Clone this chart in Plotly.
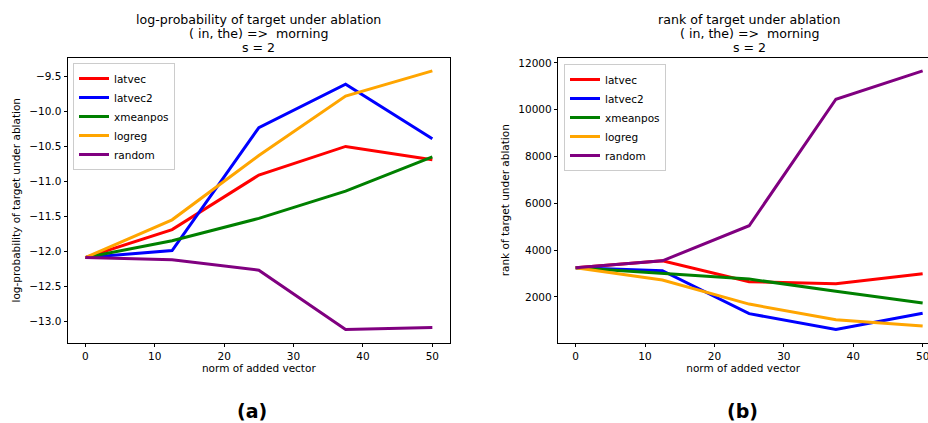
import plotly.graph_objects as go

# ---- data ----
norms = [0, 12.5, 25, 37.5, 50]
series_names = ["latvec", "latvec2", "xmeanpos", "logreg", "random"]
series_colors = ["red", "blue", "green", "orange", "purple"]

logprob_latvec = [-12.09, -11.69, -10.91, -10.50, -10.69]
logprob_latvec2 = [-12.09, -11.99, -10.23, -9.61, -10.39]
logprob_xmeanpos = [-12.09, -11.85, -11.53, -11.14, -10.65]
logprob_logreg = [-12.09, -11.55, -10.63, -9.78, -9.42]
logprob_random = [-12.09, -12.12, -12.27, -13.12, -13.09]

rank_latvec = [3240, 3540, 2650, 2560, 2990]
rank_latvec2 = [3240, 3120, 1280, 600, 1300]
rank_xmeanpos = [3240, 2990, 2760, 2240, 1740]
rank_logreg = [3240, 2720, 1690, 1020, 750]
rank_random = [3240, 3540, 5040, 10450, 11660]

logprob_series = [logprob_latvec, logprob_latvec2, logprob_xmeanpos, logprob_logreg, logprob_random]
rank_series = [rank_latvec, rank_latvec2, rank_xmeanpos, rank_logreg, rank_random]

title_lines_a = ["log-probability of target under ablation", "( in, the) =>  morning", "s = 2"]
title_lines_b = ["rank of target under ablation", "( in, the) =>  morning", "s = 2"]

W, H = 928, 423
FONT = "DejaVu Sans"

fig = go.Figure()
for name, color, ys in zip(series_names, series_colors, logprob_series):
    fig.add_trace(go.Scatter(x=norms, y=ys, mode="lines", name=name,
                             line=dict(color=color, width=3),
                             xaxis="x", yaxis="y", legend="legend"))
for name, color, ys in zip(series_names, series_colors, rank_series):
    fig.add_trace(go.Scatter(x=norms, y=ys, mode="lines", name=name,
                             line=dict(color=color, width=3),
                             xaxis="x2", yaxis="y2", legend="legend2"))


def pad_range(series):
    lo = min(min(s) for s in series)
    hi = max(max(s) for s in series)
    span = hi - lo
    return [lo - 0.05 * span, hi + 0.05 * span]


# pixel geometry
ax1_l, ax1_r = 68, 449.7
ax2_l = 558.3
top, bottom = 58, 342.5
px_per_unit = (ax1_r - ax1_l) / 55.0
x2_max = -2.5 + (W - ax2_l) / px_per_unit

axis_common = dict(
    showline=True, linecolor="black", linewidth=1,
    ticks="outside", ticklen=3.5, tickwidth=0.8, tickcolor="black",
    showgrid=False, zeroline=False, automargin=False,
    ticklabeloverflow="allow",
    tickfont=dict(family=FONT, size=10.5, color="black"),
    title_font=dict(family=FONT, size=10.5, color="black"),
)

fig.update_layout(
    width=W, height=H,
    margin=dict(l=0, r=0, t=0, b=0, autoexpand=False),
    plot_bgcolor="white", paper_bgcolor="white",
    font=dict(family=FONT, color="black"),
    xaxis=dict(domain=[ax1_l / W, ax1_r / W], anchor="y", range=[-2.5, 52.5],
               dtick=10, tick0=0, mirror=True,
               title=dict(text="norm of added vector", standoff=4), **axis_common),
    yaxis=dict(domain=[1 - bottom / H, 1 - top / H], anchor="x",
               range=pad_range(logprob_series), dtick=0.5, tick0=0, tickformat=".1f",
               mirror=True,
               title=dict(text="log-probability of target under ablation", standoff=6),
               **axis_common),
    xaxis2=dict(domain=[ax2_l / W, 1.0], anchor="y2", range=[-2.5, x2_max],
                dtick=10, tick0=0, mirror=True,
                title=dict(text="norm of added vector", standoff=4), **axis_common),
    yaxis2=dict(domain=[1 - bottom / H, 1 - top / H], anchor="x2",
                range=pad_range(rank_series), dtick=2000, tick0=0, tickformat="d",
                mirror=False,
                title=dict(text="rank of target under ablation", standoff=6),
                **axis_common),
    legend=dict(x=73 / W, y=1 - 63 / H, xref="paper", yref="paper",
                xanchor="left", yanchor="top",
                bgcolor="rgba(255,255,255,0.8)", bordercolor="#cccccc", borderwidth=1,
                font=dict(family=FONT, size=10.5, color="black"), tracegroupgap=0),
    legend2=dict(x=564 / W, y=1 - 64 / H, xref="paper", yref="paper",
                 xanchor="left", yanchor="top",
                 bgcolor="rgba(255,255,255,0.8)", bordercolor="#cccccc", borderwidth=1,
                 font=dict(family=FONT, size=10.5, color="black"), tracegroupgap=0),
    showlegend=True,
)

ann = []
title_ys = [19.3, 33.3, 47.3]
for cx, lines in [((ax1_l + ax1_r) / 2, title_lines_a), (749, title_lines_b)]:
    for yy, txt in zip(title_ys, lines):
        ann.append(dict(text=txt, x=cx / W, y=1 - yy / H, xref="paper", yref="paper",
                        xanchor="center", yanchor="middle", showarrow=False,
                        font=dict(family=FONT, size=12.6, color="black")))
ann.append(dict(text="<b>(a)</b>", x=251.5 / W, y=1 - 411 / H, xref="paper", yref="paper",
                xanchor="center", yanchor="middle", showarrow=False,
                font=dict(family=FONT, size=19, color="black")))
ann.append(dict(text="<b>(b)</b>", x=742 / W, y=1 - 411 / H, xref="paper", yref="paper",
                xanchor="center", yanchor="middle", showarrow=False,
                font=dict(family=FONT, size=19, color="black")))
fig.update_layout(annotations=ann)

fig.write_html("out.html", config={"displayModeBar": False},
               post_script="document.body.style.margin='0';document.body.style.overflow='hidden';")
